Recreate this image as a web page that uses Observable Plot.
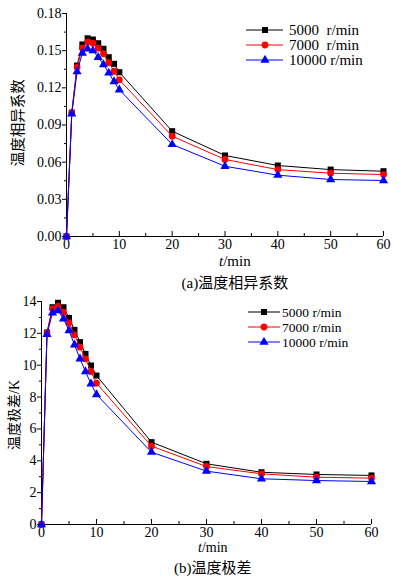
<!DOCTYPE html>
<html><head><meta charset="utf-8">
<script src="https://cdn.jsdelivr.net/npm/d3@7"></script>
<script src="https://cdn.jsdelivr.net/npm/@observablehq/plot@0.6"></script>
<style>
body{margin:0;background:#fff;}
#wrap{position:relative;width:397px;height:580px;font-family:"Liberation Serif","Times New Roman","DejaVu Serif",serif;color:#000;}
.abs{position:absolute;white-space:pre;line-height:1;}
.cjk{font-family:"Noto Sans CJK SC",sans-serif;}
svg text{font-family:"Liberation Serif","Times New Roman","DejaVu Serif",serif;}
</style></head><body><div id="wrap"></div>
<script>
const times = [0,1,2,3,4,5,6,7,8,9,10,20,30,40,50,60];
const seriesA = ["5000  r/min","7000  r/min","10000 r/min"];
const seriesB = ["5000 r/min","7000 r/min","10000 r/min"];
const colors = ["#000000","#ff0000","#0000ff"];
const symbols = ["square","circle","triangle"];
const coef5000 = [0,0.100,0.138,0.155,0.160,0.159,0.156,0.1515,0.1447,0.1394,0.1326,0.085,0.0654,0.0573,0.054,0.0527];
const coef7000 = [0,0.0998,0.1367,0.152,0.157,0.156,0.152,0.1475,0.1404,0.1334,0.1265,0.081,0.0622,0.054,0.0511,0.050];
const coef10000 = [0,0.099,0.133,0.148,0.1515,0.150,0.1447,0.1388,0.132,0.125,0.1184,0.0743,0.0567,0.0495,0.046,0.0452];
const range5000 = [0,12.05,13.64,13.92,13.64,12.97,12.22,11.45,10.71,9.98,9.35,5.17,3.81,3.28,3.14,3.08];
const range7000 = [0,12.03,13.54,13.71,13.33,12.66,11.91,11.13,10.40,9.60,8.87,4.92,3.64,3.18,2.97,2.91];
const range10000 = [0,11.93,13.29,13.43,12.91,12.18,11.28,10.40,9.60,8.83,8.16,4.54,3.35,2.87,2.76,2.70];
const xTicks = [0,10,20,30,40,50,60];
const xMinor = [5,15,25,35,45,55];
const yTicksA = [0,0.03,0.06,0.09,0.12,0.15,0.18];
const yMinorA = [0.015,0.045,0.075,0.105,0.135,0.165];
const yTicksB = [0,2,4,6,8,10,12,14];
const yMinorB = [1,3,5,7,9,11,13];

function rows(names, arrays){
  const out=[];
  names.forEach((n,i)=>times.forEach((t,j)=>out.push({series:n, idx:i, t, v:arrays[i][j]})));
  return out;
}
const dataA = rows(seriesA,[coef5000,coef7000,coef10000]);
const dataB = rows(seriesB,[range5000,range7000,range10000]);
const serifStack = "'Liberation Serif', 'Times New Roman', 'DejaVu Serif', serif";

function panel({data, names, yDomain, yTicks, yMinor, yFormat, height, mt, mb, ml, mr}){
  const seriesMarks = [];
  names.forEach((n,i)=>{
    const d = data.filter(r=>r.series===n);
    seriesMarks.push(Plot.line(d,{x:"t",y:"v",stroke:colors[i],strokeWidth:1}));
    seriesMarks.push(Plot.dot(d,{x:"t",y:"v",fill:colors[i],stroke:"none",symbol:()=>symbols[i],r:3.4}));
  });
  return Plot.plot({
    width:397, height, marginTop:mt, marginBottom:mb, marginLeft:ml, marginRight:mr,
    style:{fontFamily:serifStack, fontSize:"14px", color:"#000", background:"transparent", overflow:"visible"},
    x:{domain:[0,60]},
    y:{domain:yDomain},
    symbol:{type:"identity"},
    marks:[
      Plot.axisY({ticks:yTicks, tickSize:4, tickPadding:1, tickFormat:yFormat, label:null, fontFamily:serifStack}),
      Plot.axisY({ticks:yMinor, tickSize:2, tickFormat:()=>"", label:null}),
      Plot.axisX({ticks:xTicks, tickSize:5, dy:-5, tickPadding:3, label:null, fontFamily:serifStack}),
      Plot.axisX({ticks:xMinor, tickSize:3, dy:-3, tickFormat:()=>"", label:null}),
      Plot.ruleX([0],{stroke:"#000"}),
      Plot.ruleY([yDomain[0]],{stroke:"#000"}),
      ...seriesMarks
    ]
  });
}

const wrap = document.getElementById("wrap");
const fmtA = d3.format(".2f");
const svgA = panel({data:dataA, names:seriesA, yDomain:[0,0.18], yTicks:yTicksA, yMinor:yMinorA, yFormat:fmtA, height:270, mt:13, mb:34, ml:66, mr:14});
svgA.style.position="absolute"; svgA.style.left="0px"; svgA.style.top="0px";
wrap.appendChild(svgA);
const svgB = panel({data:dataB, names:seriesB, yDomain:[0,14], yTicks:yTicksB, yMinor:yMinorB, yFormat:d3.format("d"), height:265, mt:11, mb:31, ml:41, mr:26});
svgB.style.position="absolute"; svgB.style.left="0px"; svgB.style.top="290px";
wrap.appendChild(svgB);

function addText(html, cx, cy, size, cls, rotate){
  const el=document.createElement("div");
  el.className="abs "+(cls||"");
  el.innerHTML=html;
  el.style.fontSize=size+"px";
  wrap.appendChild(el);
  const w=el.offsetWidth, h=el.offsetHeight;
  el.style.left=(cx-w/2)+"px"; el.style.top=(cy-h/2)+"px";
  if(rotate) el.style.transform="rotate("+rotate+"deg)";
  return el;
}
addText('<i>t</i>/min',235,261,15);
addText('(a)<span class="cjk">温度相异系数</span>',235,282,15);
addText('<span class="cjk">温度相异系数</span>',17,123,14.5,"",-90);
addText('<i>t</i>/min',213,548,14);
addText('(b)<span class="cjk">温度极差</span>',213,567,15);
addText('<span class="cjk">温度极差</span>/K',14,415,14,"",-90);

function legend(names, x0, x1, mx, tx, ys, size){
  const ns="http://www.w3.org/2000/svg";
  const svg=document.createElementNS(ns,"svg");
  svg.setAttribute("width",397); svg.setAttribute("height",580);
  svg.style.position="absolute"; svg.style.left="0"; svg.style.top="0"; svg.style.overflow="visible";
  const symTypes=[d3.symbolSquare,d3.symbolCircle,d3.symbolTriangle];
  names.forEach((n,i)=>{
    const l=document.createElementNS(ns,"line");
    l.setAttribute("x1",x0);l.setAttribute("x2",x1);l.setAttribute("y1",ys[i]);l.setAttribute("y2",ys[i]);
    l.setAttribute("stroke",colors[i]);l.setAttribute("stroke-width",1);
    svg.appendChild(l);
    const p=document.createElementNS(ns,"path");
    p.setAttribute("d",d3.symbol(symTypes[i],Math.PI*3.4*3.4)());
    p.setAttribute("transform",`translate(${mx},${ys[i]})`);
    p.setAttribute("fill",colors[i]);
    svg.appendChild(p);
    const t=document.createElementNS(ns,"text");
    t.setAttribute("x",tx);t.setAttribute("y",ys[i]);t.setAttribute("dy","0.35em");
    t.setAttribute("font-size",size);
    t.style.whiteSpace="pre";
    t.textContent=n;
    svg.appendChild(t);
  });
  wrap.appendChild(svg);
}
legend(seriesA,246,283,265,289,[30,45,60],15);
legend(seriesB,248,280,264,282,[312,327,342],13.5);
</script></body></html>
